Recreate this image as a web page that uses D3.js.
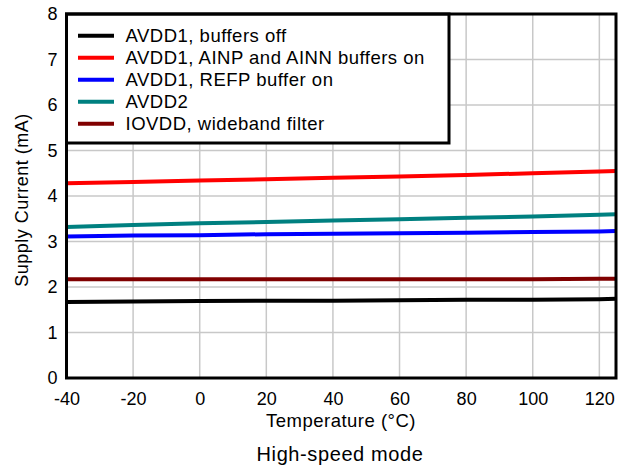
<!DOCTYPE html>
<html><head><meta charset="utf-8">
<script src="https://cdn.jsdelivr.net/npm/d3@7"></script>
<style>body{margin:0;background:#fff}svg{display:block}text{font-family:"Liberation Sans",Arial,sans-serif;fill:#000}</style>
</head><body>
<script>
const temps = [-40, -20, 0, 20, 40, 60, 80, 100, 120, 125];
const avdd1Off  = [1.67, 1.68, 1.69, 1.70, 1.70, 1.71, 1.72, 1.72, 1.73, 1.74];
const avdd1Ain  = [4.28, 4.31, 4.34, 4.37, 4.40, 4.43, 4.46, 4.50, 4.54, 4.55];
const avdd1Refp = [3.11, 3.13, 3.14, 3.16, 3.17, 3.18, 3.19, 3.21, 3.22, 3.23];
const avdd2     = [3.32, 3.36, 3.40, 3.43, 3.46, 3.49, 3.52, 3.55, 3.59, 3.60];
const iovdd     = [2.17, 2.17, 2.17, 2.17, 2.17, 2.17, 2.17, 2.17, 2.18, 2.18];
const seriesNames = ["AVDD1, buffers off", "AVDD1, AINP and AINN buffers on", "AVDD1, REFP buffer on", "AVDD2", "IOVDD, wideband filter"];
const seriesColors = ["#000000", "#ff0000", "#0000ff", "#008080", "#800000"];
const seriesValues = [avdd1Off, avdd1Ain, avdd1Refp, avdd2, iovdd];
const xTicks = [-40, -20, 0, 20, 40, 60, 80, 100, 120];
const yTicks = [0, 1, 2, 3, 4, 5, 6, 7, 8];

const W = 626, H = 469;
const L = 66.5, R = 616, T = 14, B = 378;
const svg = d3.select("body").append("svg").attr("width", W).attr("height", H);
const x = d3.scaleLinear().domain([-40, 125]).range([L, R]);
const y = d3.scaleLinear().domain([0, 8]).range([B, T]);

// gridlines
svg.append("g").selectAll("line").data(xTicks.slice(1)).join("line")
  .attr("x1", d => x(d)).attr("x2", d => x(d)).attr("y1", T).attr("y2", B)
  .attr("stroke", "#c8c8c8").attr("stroke-width", 1.5);
svg.append("g").selectAll("line").data(yTicks.slice(1, -1)).join("line")
  .attr("x1", L).attr("x2", R).attr("y1", d => y(d)).attr("y2", d => y(d))
  .attr("stroke", "#c8c8c8").attr("stroke-width", 1.5);

// series
const line = d3.line().x((d, i) => x(temps[i])).y(d => y(d));
seriesValues.forEach((vals, k) => {
  svg.append("path").datum(vals).attr("d", line).attr("fill", "none")
    .attr("stroke", seriesColors[k]).attr("stroke-width", 4);
});

// axes (labels only)
const xAxis = svg.append("g").attr("transform", `translate(0,${B})`)
  .call(d3.axisBottom(x).tickValues(xTicks).tickSize(0).tickPadding(14).tickFormat(d => String(d)));
xAxis.select(".domain").remove();
xAxis.selectAll("text").attr("font-size", 18).attr("fill", "#000");
const yAxis = svg.append("g").attr("transform", `translate(${L},0)`)
  .call(d3.axisLeft(y).tickValues(yTicks).tickSize(0).tickPadding(9).tickFormat(d => String(d)));
yAxis.select(".domain").remove();
yAxis.selectAll("text").attr("font-size", 18).attr("fill", "#000");

// legend
const lg = svg.append("g");
lg.append("rect").attr("x", L).attr("y", T).attr("width", 449 - L).attr("height", 143 - T)
  .attr("fill", "#fff").attr("stroke", "#000").attr("stroke-width", 3);
seriesNames.forEach((n, k) => {
  const yy = 35.7 + k * 22;
  lg.append("line").attr("x1", 78).attr("x2", 114).attr("y1", yy).attr("y2", yy)
    .attr("stroke", seriesColors[k]).attr("stroke-width", 4);
  lg.append("text").attr("x", 125.5).attr("y", yy).attr("dy", "0.36em")
    .attr("font-size", 18.5).attr("letter-spacing", 0.5).text(n);
});

// frame
svg.append("rect").attr("x", L).attr("y", T).attr("width", R - L).attr("height", B - T)
  .attr("fill", "none").attr("stroke", "#000").attr("stroke-width", 3);

// titles
svg.append("text").attr("x", 341).attr("y", 427).attr("text-anchor", "middle")
  .attr("font-size", 18.5).attr("letter-spacing", 0.5).text("Temperature (°C)");
svg.append("text").attr("transform", "translate(28,200) rotate(-90)").attr("text-anchor", "middle")
  .attr("font-size", 18).attr("letter-spacing", 0.5).text("Supply Current (mA)");
svg.append("text").attr("x", 340).attr("y", 461).attr("text-anchor", "middle")
  .attr("font-size", 20).attr("letter-spacing", 0.6).text("High-speed mode");
</script>
</body></html>
